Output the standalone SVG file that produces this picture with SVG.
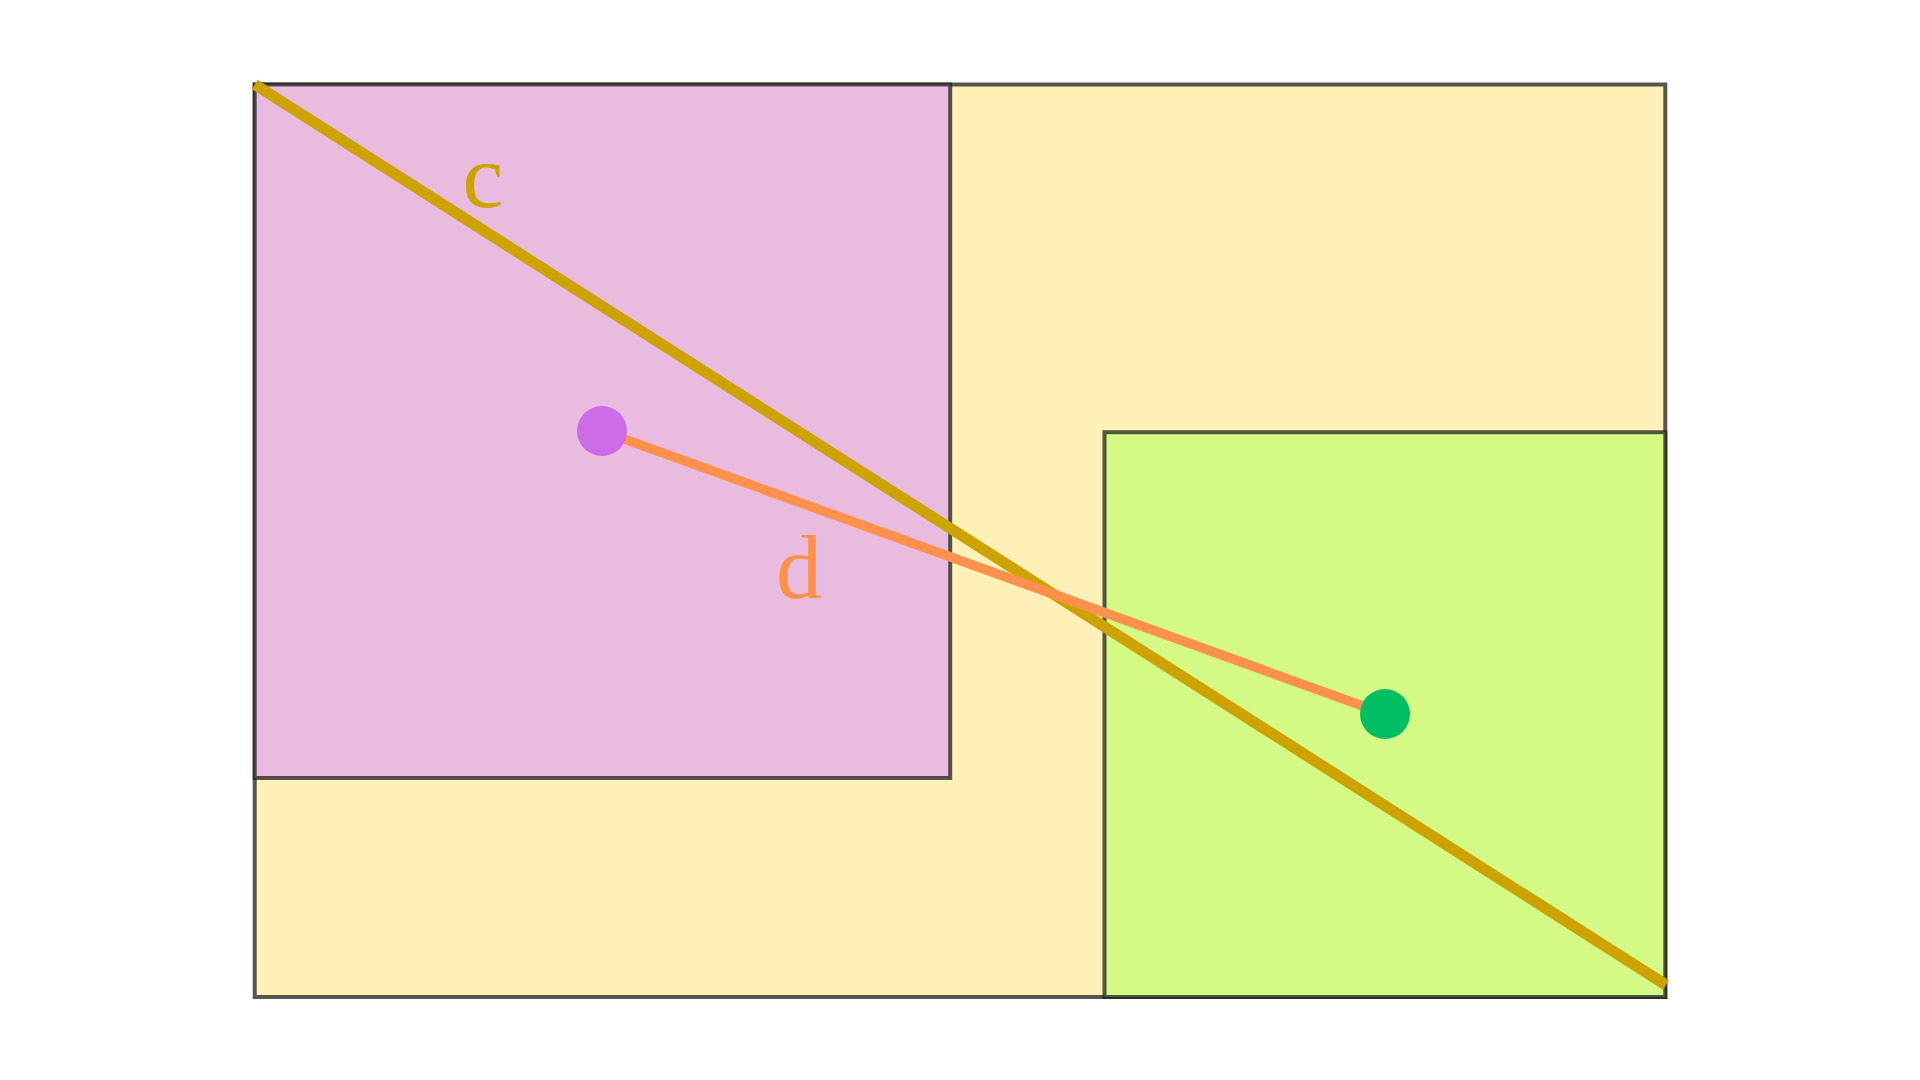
<svg xmlns="http://www.w3.org/2000/svg" width="1920" height="1080" viewBox="0 0 1920 1080">
  <style>
    .box { stroke: #1f1f1f; stroke-opacity: 0.75; stroke-width: 4; }
    .lbl { font-family: "Liberation Serif", "DejaVu Serif", serif; font-size: 92px; text-anchor: middle; }
  </style>
  <rect x="0" y="0" width="1920" height="1080" fill="#ffffff"/>
  <g id="region-outer">
    <rect class="box" x="254.7" y="84.5" width="1410.6" height="912.5" fill="#FEF0B7"/>
  </g>
  <g id="region-pink">
    <rect class="box" x="254.7" y="84.5" width="695.5" height="693.5" fill="#E9BBDF"/>
  </g>
  <g id="region-green">
    <rect class="box" x="1104.5" y="432.2" width="560.8" height="564.8" fill="#D4F985"/>
  </g>
  <g id="connectors">
    <line id="c" x1="254.7" y1="84.5" x2="1666" y2="985" stroke="#CCA300" stroke-width="11"/>
    <line id="d" x1="602" y1="431" x2="1385" y2="714" stroke="#FF914D" stroke-width="9.5"/>
  </g>
  <g id="node-purple">
    <circle cx="602" cy="431" r="25" fill="#CB6CE6"/>
  </g>
  <g id="node-green">
    <circle cx="1385" cy="714" r="25" fill="#00BF63"/>
  </g>
  <g id="labels">
    <text class="lbl" x="483" y="207" fill="#CCA300">c</text>
    <text class="lbl" x="799" y="598" fill="#FF914D">d</text>
  </g>
</svg>
